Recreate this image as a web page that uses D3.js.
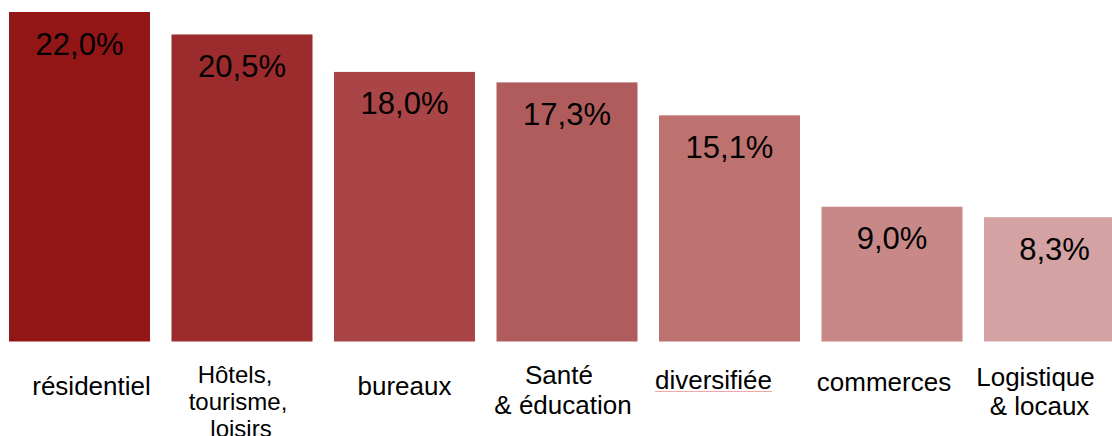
<!DOCTYPE html>
<html>
<head>
<meta charset="utf-8">
<script src="https://cdn.jsdelivr.net/npm/d3@7"></script>
<style>
  html, body { margin: 0; padding: 0; background: #fff; }
  svg { display: block; }
  text { font-family: "Liberation Sans", Arial, sans-serif; fill: #000; }
</style>
</head>
<body>
<svg id="chart" width="1112" height="436"></svg>
<script>
// ---- data ----
const categories = ["résidentiel", "Hôtels, tourisme, loisirs", "bureaux", "Santé & éducation", "diversifiée", "commerces", "Logistique & locaux"];
const labelLines = [["résidentiel"], ["Hôtels,", "tourisme,", "loisirs"], ["bureaux"], ["Santé", "& éducation"], ["diversifiée"], ["commerces"], ["Logistique", "& locaux"]];
const values = [22.0, 20.5, 18.0, 17.3, 15.1, 9.0, 8.3];
const valueLabels = ["22,0%", "20,5%", "18,0%", "17,3%", "15,1%", "9,0%", "8,3%"];

// ---- styling / layout (not data) ----
const colors = ["#921616", "#9c2b2d", "#a94546", "#b15c5c", "#bd7270", "#c98888", "#d4a2a2"];
const labelDx = [[12], [-7, -4, -1], [0], [-8, -4], [-16], [-8], [-19, -15]];
const labelY = [[394.5], [383, 410, 437], [394.5], [383.5], [389], [391], [386, 415]];
labelY[3].push(414);
const labelSize = [26, 24, 26, 26, 26, 26, 26];

const svg = d3.select("#chart");

const x = d3.scaleBand()
  .domain(categories)
  .range([9, 1125])
  .paddingInner(0.1323)
  .paddingOuter(0);

const y = d3.scaleLinear()
  .domain([0, 22])
  .range([341.5, 12]);

svg.selectAll("rect.bar")
  .data(values)
  .join("rect")
  .attr("class", "bar")
  .attr("x", (d, i) => x(categories[i]))
  .attr("width", x.bandwidth())
  .attr("y", d => y(d))
  .attr("height", d => y(0) - y(d))
  .attr("fill", (d, i) => colors[i]);

svg.selectAll("text.val")
  .data(values)
  .join("text")
  .attr("class", "val")
  .attr("x", (d, i) => x(categories[i]) + x.bandwidth() / 2)
  .attr("y", d => y(d) + 42.5)
  .attr("text-anchor", "middle")
  .style("font-size", "31px")
  .text((d, i) => valueLabels[i]);

const g = svg.selectAll("g.cat")
  .data(categories)
  .join("g")
  .attr("class", "cat");

g.each(function(c, i) {
  const cx = x(c) + x.bandwidth() / 2;
  const sel = d3.select(this);
  labelLines[i].forEach((line, j) => {
    const t = sel.append("text")
      .attr("x", cx + labelDx[i][j])
      .attr("y", labelY[i][j])
      .attr("text-anchor", "middle")
      .style("font-size", labelSize[i] + "px")
      .text(line);
    if (c === "diversifiée") {
      const bb = t.node().getBBox();
      sel.append("line")
        .attr("x1", bb.x)
        .attr("x2", bb.x + bb.width)
        .attr("y1", labelY[i][j] + 2.5)
        .attr("y2", labelY[i][j] + 2.5)
        .attr("stroke", "#f2a6a6")
        .attr("stroke-width", 1.2);
    }
  });
});
</script>
</body>
</html>
